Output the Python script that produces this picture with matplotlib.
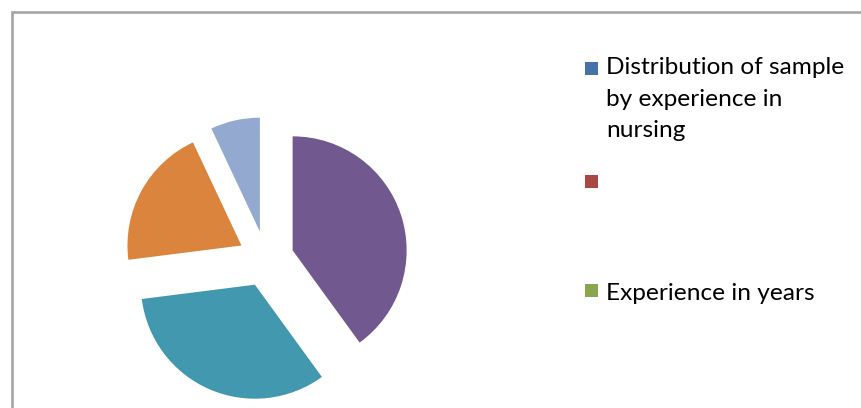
import matplotlib.pyplot as plt
from matplotlib.patches import Rectangle

# Datos del gráfico de sectores (porcentaje de la muestra)
valores = [40, 33, 20, 7]
colores = ['#71588F', '#4198AF', '#DB843D', '#93A9CF']

# Entradas de la leyenda
etiquetas_leyenda = ['Distribution of sample\nby experience in\nnursing', '', 'Experience in years']
colores_leyenda = ['#4572A7', '#AA4643', '#89A54E']

W, H = 861, 408
fig = plt.figure(figsize=(W / 100, H / 100), dpi=100)
fig.patch.set_facecolor('white')

# Marco gris del área del gráfico (se sale por la derecha y por abajo)
marco = Rectangle((12, -20), W + 40, H + 20 - 12, transform=None,
                  fill=False, edgecolor='#a5a5a5', linewidth=1.9)
fig.patches.append(marco)

# Ejes en coordenadas de píxel para colocar la tarta
ax = fig.add_axes([0, 0, 1, 1])
ax.axis('off')

# explode va en unidades de datos (píxeles aquí)
ax.pie(valores, colors=colores, startangle=90, counterclock=False,
       explode=[28] * len(valores), radius=114, center=(266, H - 259),
       wedgeprops={'linewidth': 0})
ax.set_xlim(0, W)
ax.set_ylim(0, H)
ax.set_aspect('equal')

# Leyenda dibujada a mano: cuadrado + texto
y_cuadros = [68.5, 181, 290]
y_textos = [57, 170, 283]
for etiqueta, color, yc, yt in zip(etiquetas_leyenda, colores_leyenda, y_cuadros, y_textos):
    fig.patches.append(Rectangle((585, H - yc - 6.5), 13, 13, transform=None,
                                 facecolor=color, edgecolor='none'))
    fig.text(606 / W, 1 - yt / H, etiqueta, fontsize=17.6, family='Lato',
             va='top', ha='left', linespacing=1.63, color='black')

fig.savefig('out.png', dpi=100)
